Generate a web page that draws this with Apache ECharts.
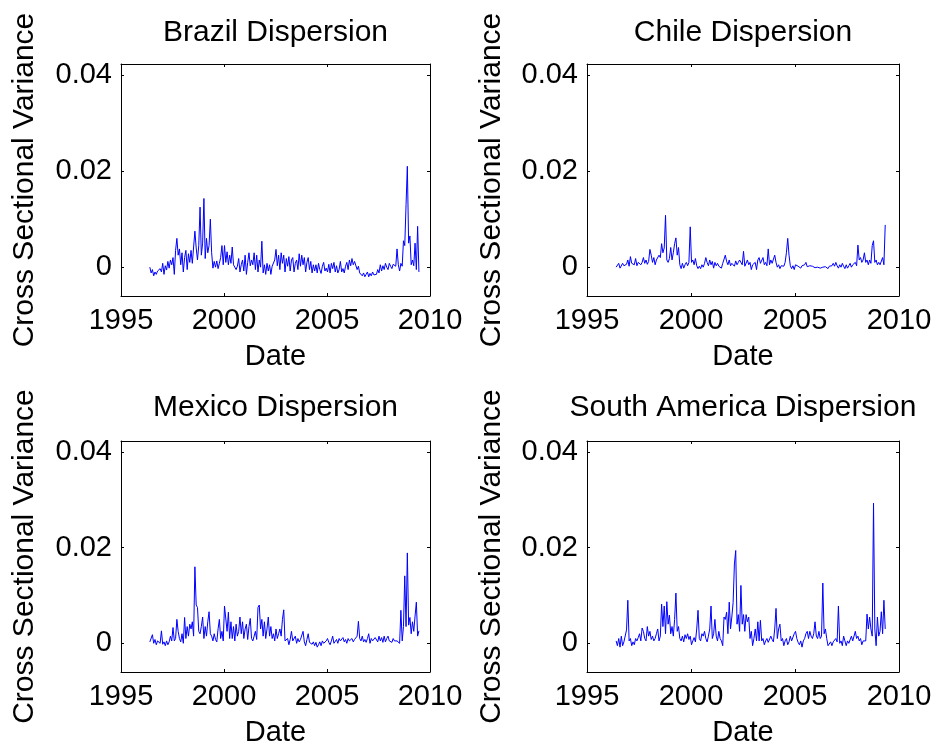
<!DOCTYPE html>
<html>
<head>
<meta charset="utf-8">
<script src="https://cdn.jsdelivr.net/npm/echarts@6/dist/echarts.min.js"></script>
<style>
  html, body { margin: 0; padding: 0; background: #fff; }
  #main { width: 938px; height: 751px; }
</style>
</head>
<body>
<div id="main"></div>
<script>
// panel titles and tick values
var titles = ['Brazil Dispersion', 'Chile Dispersion', 'Mexico Dispersion', 'South America Dispersion'];
var xTicks = [1995, 2000, 2005, 2010];
var yTicks = [0, 0.02, 0.04];

// sample dates: every 1/16 year from mid 1996
var dates = [];
for (var i = 0; i < 210; i++) dates.push(1996.4 + i / 16);

var brazil = [
  0, -0.0012, -0.0005, -0.0018, -0.001, -0.0015, -0.0008, -0.0012, -0.0003, -0.001, 0.0008, -0.0015, 0.0003, -0.0006, 0.0012, -0.0002,
  0.0015, 0.0005, 0.002, -0.0015, 0.0035, 0.006, 0.0025, 0.0038, 0.0005, 0.003, -0.001, 0.002, 0.0035, -0.0005, 0.0028, 0.001,
  0.0035, 0.0008, 0.0042, 0.0075, 0.004, 0.0015, 0.0045, 0.0125, 0.0025, 0.005, 0.0143, 0.0018, 0.006, 0.003, 0.0045, 0.01,
  0.003, -0.0002, 0.0012, 0, 0.0013, -0.0003, 0.0008, 0.002, 0.0045, 0.0005, 0.0045, 0.001, 0.0032, 0.0005, 0.0025, 0.0008,
  0.0042, 0.0005, 0.0008, -0.0005, 0.0002, 0.0018, -0.001, 0.0005, 0.0015, -0.0008, 0.0025, -0.0015, 0.001, 0.003, 0.0003, 0.0015,
  0.0005, 0.003, -0.0005, 0.0025, -0.001, 0.0015, 0, 0.0054, -0.0012, 0.0005, -0.0015, 0.0008, -0.0008, 0.0005, -0.0015, 0.0002,
  0.0005, 0.0015, 0.0037, 0.0003, 0.0025, -0.0005, 0.003, 0.0008, 0.0025, -0.001, 0.0018, 0.0002, 0.0022, -0.0008, 0.0015, 0.002,
  -0.001, 0.0008, 0.0015, -0.0005, 0.0028, 0.0002, 0.0025, 0.0005, 0.002, -0.001, 0.001, 0.002, -0.0005, 0.0012, -0.0012, 0.0005,
  -0.0008, 0.0005, -0.0012, 0.0008, -0.0005, -0.0013, 0.0002, 0.001, -0.0008, -0.0002, -0.001, 0.0006, -0.0012, 0.0008, -0.0003, 0.001,
  -0.001, 0.0003, -0.0012, -0.0005, 0.0012, -0.001, -0.0003, -0.0012, 0.0002, 0.001, -0.0005, 0.0015, 0.0003, 0.0018, 0.0005, 0.0012,
  0.0008, -0.0005, 0.0002, -0.0012, -0.0008, -0.0018, -0.0012, -0.002, -0.0015, -0.001, -0.002, -0.0013, -0.0018, -0.001, -0.0016, -0.0012,
  -0.0015, -0.0005, -0.0012, 0.0005, -0.0008, 0.0003, -0.0005, 0.0008, 0, -0.0005, 0.0008, 0.0002, -0.0003, 0.0006, 0.001, 0.0002,
  0.0038, 0.0005, -0.0008, 0.0008, 0.0002, 0.0055, 0.0045, 0.013, 0.021, 0.005, 0.0065, 0.0005, 0.0015, 0.0003, 0.005, -0.0005,
  0.0085, -0.001
];

var chile = [
  0, 0.0003, 0.0008, -0.0002, 0.0002, 0.0008, 0.0003, 0.0005, 0.0006, 0.0015, 0.0002, 0.0022, 0.0008, 0.0012, 0.0005, 0.0018,
  0.0003, 0.001, 0.0013, 0.0005, 0.001, 0.002, 0.0008, 0.0015, 0.0006, 0.0012, 0.0037, 0.0025, 0.001, 0.002, 0.0005, 0.0015,
  0.0015, 0.0025, 0.002, 0.0049, 0.003, 0.004, 0.0108, 0.0015, 0.001, 0.0018, 0.0041, 0.0015, 0.003, 0.0049, 0.0061, 0.0025,
  0.0041, 0.0005, -0.0003, 0.0008, -0.0002, 0.0005, 0.001, 0.0003, 0.001, 0.0084, 0.001, 0.0015, 0.0005, 0.0018, 0.0003, -0.0003,
  0.0002, -0.0003, 0.0005, 0, 0.0008, 0.002, 0.001, 0.0003, 0.0015, 0.0005, 0.0012, -0.0002, 0.001, 0.0003, 0.0008, 0.0002,
  0.0005, -0.0002, 0.0008, 0.001, 0.0025, 0.0012, 0.0005, 0.0015, 0.0003, 0.0008, 0.001, 0.0002, 0.0013, 0.0005, 0.001, 0.0015,
  0.0012, 0.0005, 0.0033, 0.0002, 0.0005, 0.0015, 0.0005, 0.001, -0.0005, 0.0005, 0.0002, 0.001, -0.0005, 0.0015, 0.002, 0.0008,
  0.001, 0.002, 0.0005, 0.001, 0.0003, 0.0038, 0.0005, 0.0015, 0.0008, 0.001, 0.0025, 0.001, 0, 0.0005, -0.0003, 0.0003,
  0.0005, 0.0002, 0.001, 0.003, 0.006, 0.0025, 0.0003, -0.0003, 0.0003, -0.0005, 0.0005, 0.0008, 0.0002, 0.0005, -0.0002, 0.0003,
  0, 0.0005, 0.001, 0.0001, -0.0002, 0.0003, 0, 0.0002, 0.0001, -0.0001, 0.0002, 0, 0.0001, -0.0002, 0.0002, 0,
  -0.0002, 0.0001, 0, -0.0003, 0.0002, 0, 0.0003, 0.0008, 0.0002, 0.001, 0.0003, -0.0002, 0.0005, 0, 0.0008, 0.0002,
  -0.0003, 0.0005, -0.0002, 0.0003, 0.0008, 0, 0.0005, 0.0002, 0.001, 0.0003, 0.0046, 0.0015, 0.002, 0.001, 0.0015, 0.003,
  0.001, 0.0015, 0.0005, 0.0015, 0.0008, 0.0045, 0.0055, 0.001, 0.0015, 0.0005, 0.001, 0.0005, 0.0003, 0.002, 0.0005, 0.0088,
  null, null
];

var mexico = [
  0.0003, 0.0005, 0.0018, 0, 0.0008, -0.0003, 0.0005, 0.0002, 0, 0.0026, -0.0002, 0.0003, -0.0005, 0.0005, -0.0003, 0.0003,
  0.0015, 0.0005, 0.0033, 0.0005, 0.001, 0.005, 0.0025, 0.001, 0.0003, 0.002, 0, 0.0054, 0.001, 0.0035, 0.0015, 0.004,
  0.003, 0.0045, 0.0015, 0.016, 0.008, 0.0075, 0.0025, 0.002, 0.0035, 0.0055, 0.001, 0.0035, 0.0015, 0.0045, 0.0066, 0.002,
  0.0015, 0.0005, 0.002, 0.0008, 0.0003, 0.003, 0.005, 0.001, 0.0025, 0.0005, 0.0078, 0.008, 0.0025, 0.0065, 0.001, 0.0045,
  0.001, 0.0035, 0.0005, 0.004, 0.0015, 0.0025, 0.0055, 0.002, 0.0045, 0.001, 0.003, 0.004, 0.0008, 0.0035, 0.0052, 0.001,
  0.0005, 0.0015, 0.0025, 0.0008, 0.0075, 0.008, 0.003, 0.005, 0.0015, 0.0045, 0.001, 0.003, 0.0055, 0.0015, 0.0035, 0.001,
  0.002, 0.0005, 0.003, 0.001, 0.002, 0.003, 0.0015, 0.005, 0.007, 0.0005, 0.0003, 0.001, -0.0003, 0.0008, 0.0025, 0.0005,
  0.0005, 0.0015, 0, 0.001, 0.0003, 0.0008, 0.0012, 0.0025, 0.0003, -0.0005, 0.0008, 0.002, 0.0002, 0.0005, -0.0002, 0.0003,
  -0.0005, 0.0002, -0.0008, -0.0003, 0.0003, -0.0005, 0.0005, 0, -0.0003, 0.0005, 0.001, 0.0002, -0.0003, 0.0005, 0.0015, 0,
  0.0003, 0.0008, 0, 0.001, 0.0005, 0.0002, 0.0012, 0.0003, 0.0008, 0, 0.001, 0.0005, 0.0002, 0.001, 0.0003, 0.0008,
  0.0008, 0.0015, 0.0046, 0.001, 0.0005, 0.0015, 0.0003, 0.0008, 0.0002, 0.001, 0.002, 0, 0.001, 0.0005, 0.0002, 0.0012,
  0.001, 0.0003, 0.0015, 0.0005, 0.0012, 0.0002, 0.0015, 0.0003, 0.001, 0.0015, 0.0005, 0.0008, 0.0002, 0.001, 0.0005, 0.0003,
  0.0005, 0.0003, 0, 0.0069, 0.0005, 0.0035, 0.0141, 0.0035, 0.0189, 0.0038, 0.0054, 0.002, 0.0045, 0.0025, 0.0057, 0.0086,
  0.0015, 0.0026
];

var southAmerica = [
  0.0005, -0.0005, 0.001, -0.0008, 0.0015, -0.0005, 0.0003, 0.0005, 0.0028, 0.009, 0.0005, 0.001, -0.0005, 0.0003, -0.0003, 0.001,
  0.0005, 0.0012, 0.002, 0.0005, 0.0032, 0.0025, 0.001, 0.0005, 0.0035, 0.0015, 0.0025, 0.0008, 0.0015, 0.0005, 0.001, 0.002,
  0.003, 0.0005, 0.0015, 0.0082, 0.0035, 0.0078, 0.002, 0.0087, 0.004, 0.0059, 0.002, 0.0035, 0.0015, 0.005, 0.0105, 0.0025,
  0.0035, 0.001, 0.0005, 0.0015, 0.0003, 0.0018, 0.001, 0.002, 0.0008, 0.0015, -0.0003, 0.0005, 0.0012, 0.0003, 0.003, 0.0069,
  0.001, 0.0005, 0.002, 0.0015, 0.0025, 0.001, 0.0003, 0.0015, 0.003, 0.0078, 0.001, 0.002, 0.005, 0.0015, 0.0005, 0.0025,
  0.001, 0.0005, -0.0005, 0.0055, 0.005, 0.0065, 0.002, 0.0086, 0.003, 0.0055, 0.0085, 0.0166, 0.0194, 0.004, 0.006, 0.0025,
  0.0121, 0.004, 0.006, 0.0025, 0.006, 0.0045, 0.0055, 0.001, 0.0025, -0.0005, 0.001, 0.003, 0.0005, 0.0045, 0.0005, 0.0048,
  0.0005, 0.001, -0.0003, 0.0005, 0.001, 0.0002, 0.0005, 0.0015, 0.0008, 0.0003, 0.003, 0.0073, 0.001, 0.003, 0.004, 0.0005,
  0.001, -0.0005, 0.0005, 0.001, -0.0003, 0.0003, 0.0015, 0.0005, 0.0002, 0.002, 0.0025, 0.001, 0.0002, -0.0003, 0.0005, -0.0008,
  0.0005, 0.001, 0.002, 0.0025, 0.001, 0.0025, 0.0015, 0.001, 0.002, 0.0045, 0.0015, 0.001, 0.0025, 0.001, 0.0015, 0.0126,
  0.002, 0.003, 0.001, -0.0005, -0.0003, 0.0003, -0.0005, 0.0003, 0.0005, 0.001, 0.0003, 0.0078, 0, 0.0005, -0.0005, 0.0015,
  0.0005, -0.0005, 0.0005, 0, -0.0003, 0.0015, 0.0005, 0.0003, 0.0025, 0.001, 0.0015, 0.0005, 0.001, -0.0003, 0.0005, 0.0002,
  0.0005, 0.0061, 0.003, 0.0055, 0.003, 0.0015, 0.0293, 0.003, -0.0005, 0.0055, 0.0015, 0.0025, 0.0066, 0.002, 0.009, 0.003,
  null, null
];

var seriesValues = [brazil, chile, mexico, southAmerica];

var FONT = '"Liberation Sans", Arial, sans-serif';
var Y_MIN = -0.006, Y_MAX = 0.0423;

// plot boxes in pixels
var boxes = [
  { left: 121, top: 64, width: 309, height: 232, yGap: 81, titleTop: 18 },
  { left: 587, top: 64, width: 312, height: 232, yGap: 80, titleTop: 18 },
  { left: 121, top: 441, width: 309, height: 231, yGap: 81, titleTop: 393 },
  { left: 587, top: 441, width: 312, height: 231, yGap: 80, titleTop: 393 }
];

var grid = [], xAxis = [], yAxis = [], series = [], title = [];

boxes.forEach(function (b, k) {
  grid.push({ left: b.left, top: b.top, width: b.width, height: b.height });

  title.push({
    text: titles[k],
    left: b.left + b.width / 2,
    top: b.titleTop,
    textAlign: 'center',
    padding: 0,
    textStyle: { fontFamily: FONT, fontSize: 30, fontWeight: 'normal', color: '#000' }
  });

  var line = { show: true, onZero: false, lineStyle: { color: '#000', width: 1 } };
  var tick = { show: true, inside: true, length: 3, lineStyle: { color: '#000', width: 1 } };

  // bottom x axis
  xAxis.push({
    gridIndex: k, type: 'value', position: 'bottom',
    min: 1995, max: 2010, interval: 5,
    name: 'Date', nameLocation: 'middle', nameGap: 46,
    nameTextStyle: { fontFamily: FONT, fontSize: 29, color: '#000' },
    axisLine: line, axisTick: tick, splitLine: { show: false },
    axisLabel: {
      fontFamily: FONT, fontSize: 29, color: '#000', margin: 10,
      formatter: function (v) { return String(v); }
    }
  });
  // top x axis (box edge with ticks)
  xAxis.push({
    gridIndex: k, type: 'value', position: 'top',
    min: 1995, max: 2010, interval: 5,
    axisLine: line, axisTick: tick, axisLabel: { show: false }, splitLine: { show: false }
  });
  // left y axis
  yAxis.push({
    gridIndex: k, type: 'value', position: 'left',
    min: Y_MIN, max: Y_MAX,
    name: 'Cross Sectional Variance', nameLocation: 'middle', nameGap: b.yGap,
    nameTextStyle: { fontFamily: FONT, fontSize: 30, color: '#000' },
    axisLine: line,
    axisTick: { show: true, inside: true, length: 3, customValues: yTicks, lineStyle: { color: '#000', width: 1 } },
    splitLine: { show: false },
    axisLabel: {
      fontFamily: FONT, fontSize: 29, color: '#000', margin: 9,
      customValues: yTicks,
      formatter: function (v) { return String(v); }
    }
  });
  // right y axis
  yAxis.push({
    gridIndex: k, type: 'value', position: 'right',
    min: Y_MIN, max: Y_MAX,
    axisLine: line,
    axisTick: { show: true, inside: true, length: 3, customValues: yTicks, lineStyle: { color: '#000', width: 1 } },
    axisLabel: { show: false }, splitLine: { show: false }
  });

  var vals = seriesValues[k];
  var data = [];
  for (var i = 0; i < dates.length; i++) data.push([dates[i], vals[i]]);

  series.push({
    type: 'line',
    xAxisIndex: k * 2,
    yAxisIndex: k * 2,
    data: data,
    showSymbol: false,
    symbol: 'none',
    lineStyle: { color: '#0000ff', width: 1 },
    silent: true
  });
});

var chart = echarts.init(document.getElementById('main'));
chart.setOption({
  animation: false,
  backgroundColor: '#fff',
  title: title,
  grid: grid,
  xAxis: xAxis,
  yAxis: yAxis,
  series: series
});
</script>
</body>
</html>
